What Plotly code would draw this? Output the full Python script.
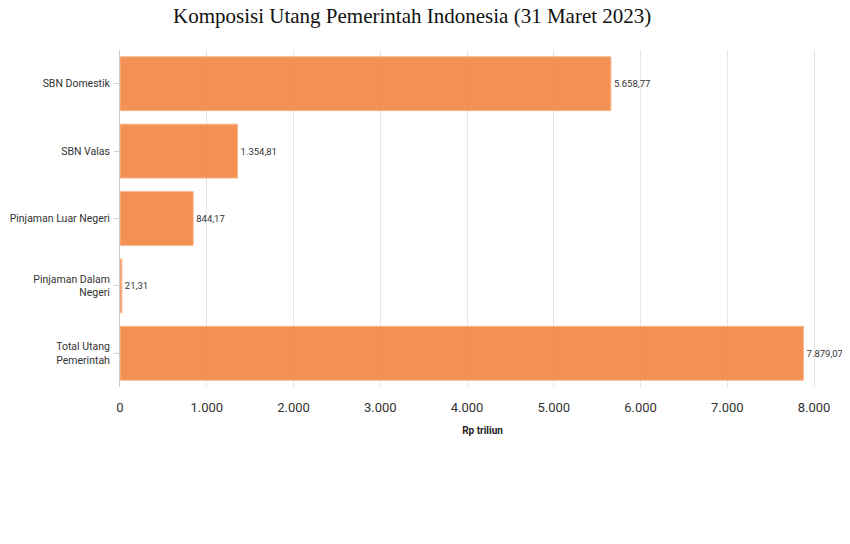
import plotly.graph_objects as go

categories = [
    "SBN Domestik",
    "SBN Valas",
    "Pinjaman Luar Negeri",
    "Pinjaman Dalam<br>Negeri",
    "Total Utang<br>Pemerintah",
]
values = [5658.77, 1354.81, 844.17, 21.31, 7879.07]
x_ticks = [0, 1000, 2000, 3000, 4000, 5000, 6000, 7000, 8000]

fig = go.Figure(
    go.Bar(
        x=values,
        y=categories,
        orientation="h",
        marker=dict(color="#F2823E", opacity=0.88, line=dict(color="#F8B080", width=1)),
        texttemplate="%{x:,.2f}",
        textposition="outside",
        textfont=dict(family="Roboto", size=9.5, color="#333333"),
        cliponaxis=False,
    )
)

fig.update_layout(
    width=842,
    height=536,
    title=dict(
        text="Komposisi Utang Pemerintah Indonesia (31 Maret 2023)",
        x=0.48,
        xanchor="center",
        y=1,
        yanchor="top",
        pad=dict(t=0),
        font=dict(family="Liberation Serif", size=21, color="#111111"),
    ),
    separators=",.",
    plot_bgcolor="white",
    paper_bgcolor="white",
    margin=dict(l=112, r=5, t=42, b=157),
    bargap=0.2,
    showlegend=False,
)

fig.update_xaxes(
    range=[0, 8357],
    tickvals=x_ticks,
    tickformat=",d",
    showgrid=True,
    gridcolor="#e6e6e6",
    zeroline=False,
    ticklabelstandoff=11,
    tickfont=dict(family="Roboto", size=13, color="#333333"),
    title=dict(text="<b>Rp triliun</b>", font=dict(family="Roboto", size=10, color="#222222"), standoff=12),
)
fig.update_yaxes(
    autorange="reversed",
    automargin=False,
    showline=True,
    linecolor="#cccccc",
    ticks="outside",
    ticklen=5,
    tickcolor="#cccccc",
    ticklabelstandoff=2,
    tickfont=dict(family="Roboto", size=10.5, color="#333333"),
)

fig.write_html("out.html")
